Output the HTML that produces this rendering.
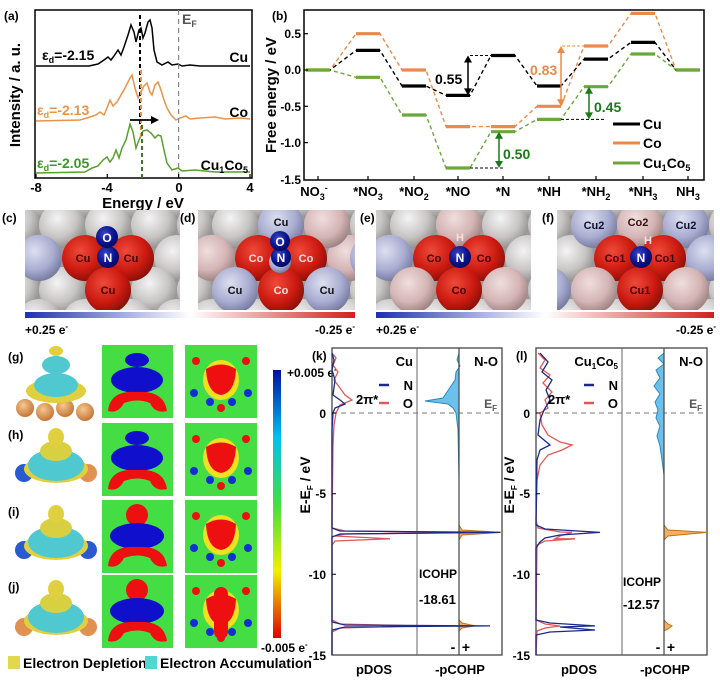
<!DOCTYPE html>
<html><head><meta charset="utf-8">
<style>
html,body{margin:0;padding:0;background:#fff;}
svg{display:block;font-family:"Liberation Sans",Arial,sans-serif;font-weight:bold;}
</style></head>
<body>
<svg width="720" height="682" viewBox="0 0 720 682" xmlns="http://www.w3.org/2000/svg">
<defs>
<radialGradient id="gGray" cx="0.4" cy="0.35" r="0.7"><stop offset="0" stop-color="#f4f4f4"/><stop offset="0.6" stop-color="#c8c4c4"/><stop offset="1" stop-color="#8a8888"/></radialGradient>
<radialGradient id="gPink" cx="0.4" cy="0.35" r="0.7"><stop offset="0" stop-color="#f0dede"/><stop offset="0.6" stop-color="#d4b4b4"/><stop offset="1" stop-color="#967c7c"/></radialGradient>
<radialGradient id="gLb" cx="0.4" cy="0.35" r="0.7"><stop offset="0" stop-color="#dde0f0"/><stop offset="0.6" stop-color="#a8acd0"/><stop offset="1" stop-color="#70749a"/></radialGradient>
<radialGradient id="gRed" cx="0.4" cy="0.35" r="0.7"><stop offset="0" stop-color="#ee4a3a"/><stop offset="0.6" stop-color="#cc1a10"/><stop offset="1" stop-color="#801008"/></radialGradient>
<radialGradient id="gBlue" cx="0.4" cy="0.35" r="0.7"><stop offset="0" stop-color="#3a46c0"/><stop offset="0.6" stop-color="#0a148e"/><stop offset="1" stop-color="#02085a"/></radialGradient>
<radialGradient id="gOr" cx="0.4" cy="0.35" r="0.7"><stop offset="0" stop-color="#f8c890"/><stop offset="1" stop-color="#c07030"/></radialGradient>
<linearGradient id="cb1" x1="0" x2="1"><stop offset="0" stop-color="#2030b0"/><stop offset="0.5" stop-color="#ffffff"/><stop offset="1" stop-color="#d02020"/></linearGradient>
<linearGradient id="cb2" x1="0" y1="0" x2="0" y2="1"><stop offset="0" stop-color="#0010a0"/><stop offset="0.25" stop-color="#00c0f0"/><stop offset="0.5" stop-color="#40e040"/><stop offset="0.75" stop-color="#f0f000"/><stop offset="1" stop-color="#e00000"/></linearGradient>
<clipPath id="cc"><rect x="25" y="210" width="155" height="100"/></clipPath>
<clipPath id="cd"><rect x="198" y="210" width="157" height="100"/></clipPath>
<clipPath id="ce"><rect x="376" y="210" width="155" height="100"/></clipPath>
<clipPath id="cf"><rect x="557" y="210" width="157" height="100"/></clipPath>
<g id="bg" fill="url(#gGray)">
<rect x="-40" y="190" width="260" height="140" fill="#9a9898"/>
<circle cx="-32" cy="195" r="23"/><circle cx="14" cy="195" r="23"/><circle cx="60" cy="195" r="23"/><circle cx="106" cy="195" r="23"/><circle cx="152" cy="195" r="23"/><circle cx="198" cy="195" r="23"/>
<circle cx="-9" cy="225" r="23"/><circle cx="37" cy="225" r="23"/><circle cx="83" cy="225" r="23"/><circle cx="129" cy="225" r="23"/><circle cx="175" cy="225" r="23"/>
<circle cx="-32" cy="258" r="23"/><circle cx="14" cy="258" r="23"/><circle cx="60" cy="258" r="23"/><circle cx="106" cy="258" r="23"/><circle cx="152" cy="258" r="23"/><circle cx="198" cy="258" r="23"/>
<circle cx="-9" cy="290" r="23"/><circle cx="37" cy="290" r="23"/><circle cx="83" cy="290" r="23"/><circle cx="129" cy="290" r="23"/><circle cx="175" cy="290" r="23"/>
<circle cx="-32" cy="322" r="23"/><circle cx="14" cy="322" r="23"/><circle cx="60" cy="322" r="23"/><circle cx="106" cy="322" r="23"/><circle cx="152" cy="322" r="23"/><circle cx="198" cy="322" r="23"/>
</g>
<g id="m1a">
<rect x="102" y="0" width="71" height="73" fill="#44dd44"/>
<ellipse cx="137" cy="15" rx="12" ry="7" fill="#1010cc"/>
<ellipse cx="137" cy="35" rx="26" ry="13" fill="#1010cc"/>
<path d="M108,66 Q110,45 137,47 Q164,45 167,66 Q155,69 150,58 Q137,53 124,58 Q118,69 108,66Z" fill="#ee1010"/>
</g>
<g id="m1b">
<rect x="102" y="0" width="71" height="73" fill="#44dd44"/>
<ellipse cx="137" cy="15" rx="11" ry="11" fill="#ee1010"/>
<ellipse cx="137" cy="36" rx="27" ry="13" fill="#1010cc"/>
<path d="M108,66 Q110,45 137,47 Q164,45 167,66 Q155,69 150,58 Q137,53 124,58 Q118,69 108,66Z" fill="#ee1010"/>
</g>
<g id="m2">
<rect x="185" y="0" width="72" height="73" fill="#44dd44"/>
<ellipse cx="221" cy="35" rx="18" ry="20" fill="#f0e020"/>
<path d="M206,24 Q221,15 236,24 Q235,48 221,50 Q207,48 206,24Z" fill="#ee1010"/>
<circle cx="196" cy="16" r="4" fill="#ee1010"/><circle cx="246" cy="16" r="4" fill="#ee1010"/><circle cx="221" cy="63" r="4" fill="#ee1010"/>
<circle cx="194" cy="48" r="4" fill="#1030d0"/><circle cx="248" cy="48" r="4" fill="#1030d0"/><circle cx="210" cy="57" r="4" fill="#1030d0"/><circle cx="232" cy="57" r="4" fill="#1030d0"/>
</g>
<g id="iso">
<ellipse cx="56" cy="46" rx="32" ry="14" fill="#e0d040"/>
<ellipse cx="56" cy="42" rx="28" ry="16" fill="#50c8d0"/>
<ellipse cx="56" cy="28" rx="16" ry="10" fill="#d8d040"/>
<ellipse cx="56" cy="14" rx="8" ry="9" fill="#e0d040"/>
</g>
</defs>

<!-- (a) -->
<text x="4" y="20" font-size="12">(a)</text>
<rect x="35" y="10" width="217" height="168" fill="none" stroke="#000" stroke-width="1.5"/>
<path d="M36,66 L89,66 L98,64 L104,60 L108,57 L111,60 L114,56 L118,50 L121,55 L124,47 L128,35 L131,25 L134,32 L136,42 L139,30 L141,28 L143,38 L145,33 L148,22 L150,20 L152,28 L154,50 L157,62 L162,65 L168,62 L172,65 L178,64 L182,66 L190,65 L200,66 L250,66" fill="none" stroke="#000" stroke-width="1.5"/>
<path d="M36,121 L80,120 L90,117 L96,115 L100,112 L104,115 L107,108 L110,100 L113,106 L117,102 L121,95 L125,88 L129,80 L132,75 L135,88 L138,98 L141,92 L144,86 L147,83 L150,92 L152,95 L155,85 L158,82 L161,90 L164,100 L167,108 L171,115 L176,120 L180,118 L186,116 L190,119 L200,118 L215,117 L225,119 L240,118 L250,119" fill="none" stroke="#e8944a" stroke-width="1.5"/>
<path d="M36,173 L85,172 L92,168 L98,166 L103,160 L107,157 L110,162 L113,158 L116,150 L119,158 L122,148 L126,140 L130,124 L133,132 L136,148 L139,140 L143,131 L147,130 L151,133 L155,138 L158,135 L161,136 L164,150 L167,163 L172,170 L178,168 L182,171 L195,170 L215,172 L250,172" fill="none" stroke="#5aa02c" stroke-width="1.5"/>
<line x1="178.6" y1="10" x2="178.6" y2="178" stroke="#888" stroke-width="1.2" stroke-dasharray="5,4"/>
<line x1="140" y1="15" x2="140" y2="125" stroke="#000" stroke-width="2" stroke-dasharray="4,3"/>
<line x1="141" y1="70" x2="141" y2="140" stroke="#e8944a" stroke-width="2" stroke-dasharray="4,3"/>
<line x1="142" y1="125" x2="142" y2="178" stroke="#3a7a20" stroke-width="2" stroke-dasharray="4,3"/>
<line x1="130" y1="120" x2="152" y2="120" stroke="#000" stroke-width="1.8"/>
<polygon points="159,120 151,116 151,124" fill="#000"/>
<text x="182" y="24" font-size="14" fill="#555">E<tspan font-size="9" dy="3">F</tspan></text>
<text x="42" y="60" font-size="14">ε<tspan font-size="9" dy="3">d</tspan><tspan dy="-3">=-2.15</tspan></text>
<text x="248" y="62" font-size="14" text-anchor="end">Cu</text>
<text x="37" y="115" font-size="14" fill="#e8944a">ε<tspan font-size="9" dy="3">d</tspan><tspan dy="-3">=-2.13</tspan></text>
<text x="248" y="117" font-size="14" text-anchor="end">Co</text>
<text x="37" y="168" font-size="14" fill="#3a9a20">ε<tspan font-size="9" dy="3">d</tspan><tspan dy="-3">=-2.05</tspan></text>
<text x="248" y="170" font-size="14" text-anchor="end">Cu<tspan font-size="9" dy="3">1</tspan><tspan dy="-3">Co</tspan><tspan font-size="9" dy="3">5</tspan></text>
<g stroke="#000" stroke-width="1.2"><line x1="36" y1="178" x2="36" y2="174"/><line x1="107.3" y1="178" x2="107.3" y2="174"/><line x1="178.6" y1="178" x2="178.6" y2="174"/><line x1="250" y1="178" x2="250" y2="174"/></g>
<g font-size="13" text-anchor="middle"><text x="36" y="192">-8</text><text x="107" y="192">-4</text><text x="179" y="192">0</text><text x="250" y="192">4</text></g>
<text x="143" y="208" font-size="15" text-anchor="middle">Energy / eV</text>
<text transform="translate(20,95) rotate(-90)" font-size="15" text-anchor="middle">Intensity / a. u.</text>

<!-- (b) -->
<text x="272" y="20" font-size="12">(b)</text>
<rect x="304" y="10" width="400" height="170" fill="none" stroke="#000" stroke-width="1.5"/>
<polyline points="306,70 330,70 356,33.7 380,33.7 402,70 426,70 446,126.6 470,126.6 491,126.6 515,126.6 537,106.3 561,106.3 584,46 608,46 631,13.4 655,13.4 676,70 700,70" fill="none" stroke="#ea8a4a" stroke-width="1.4" stroke-dasharray="4,3"/>
<polyline points="306,70 330,70 356,77.3 380,77.3 402,115 426,115 446,168 470,168 491,131.7 515,131.7 537,119.4 561,119.4 584,86.7 608,86.7 631,54 655,54 676,70 700,70" fill="none" stroke="#6aa83a" stroke-width="1.4" stroke-dasharray="4,3"/>
<polyline points="306,70 330,70 356,50.4 380,50.4 402,86 426,86 446,95.4 470,95.4 491,55.5 515,55.5 537,86 561,86 584,59.1 608,59.1 631,42.4 655,42.4 676,70 700,70" fill="none" stroke="#000" stroke-width="1.4" stroke-dasharray="4,3"/>
<path d="M306,70H330M356,33.7H380M402,70H426M446,126.6H470M491,126.6H515M537,106.3H561M584,46H608M631,13.4H655M676,70H700" stroke="#ea8a4a" stroke-width="3.2"/>
<path d="M306,70H330M356,77.3H380M402,115H426M446,168H470M491,131.7H515M537,119.4H561M584,86.7H608M631,54H655M676,70H700" stroke="#6aa83a" stroke-width="3.2"/>
<path d="M356,50.4H380M402,86H426M446,95.4H470M491,55.5H515M537,86H561M584,59.1H608M631,42.4H655" stroke="#000" stroke-width="3.2"/>
<g stroke="#000" stroke-width="1.2"><line x1="304" y1="33.7" x2="308" y2="33.7"/><line x1="304" y1="70" x2="308" y2="70"/><line x1="304" y1="106.3" x2="308" y2="106.3"/><line x1="304" y1="142.6" x2="308" y2="142.6"/>
<path d="M318,180v-4M368,180v-4M414,180v-4M458,180v-4M503,180v-4M549,180v-4M596,180v-4M643,180v-4M688,180v-4"/></g>
<g font-size="12" text-anchor="end"><text x="301" y="38">0.5</text><text x="301" y="74">0.0</text><text x="301" y="111">-0.5</text><text x="301" y="147">-1.0</text><text x="301" y="184">-1.5</text></g>
<g font-size="13" text-anchor="middle">
<text x="314" y="196">NO<tspan font-size="9" dy="4">3</tspan><tspan font-size="9" dy="-9">-</tspan></text>
<text x="368" y="196">*NO<tspan font-size="9" dy="4">3</tspan></text>
<text x="414" y="196">*NO<tspan font-size="9" dy="4">2</tspan></text>
<text x="458" y="196">*NO</text><text x="503" y="196">*N</text><text x="549" y="196">*NH</text>
<text x="596" y="196">*NH<tspan font-size="9" dy="4">2</tspan></text>
<text x="643" y="196">*NH<tspan font-size="9" dy="4">3</tspan></text>
<text x="688" y="196">NH<tspan font-size="9" dy="4">3</tspan></text></g>
<text transform="translate(276,95) rotate(-90)" font-size="15" text-anchor="middle">Free energy / eV</text>
<line x1="470" y1="55.5" x2="492" y2="55.5" stroke="#000" stroke-dasharray="3,2"/>
<line x1="468" y1="61" x2="468" y2="90" stroke="#000" stroke-width="1.5"/>
<polygon points="468,55.5 464,62.5 472,62.5" fill="#000"/><polygon points="468,95.4 464,88.4 472,88.4" fill="#000"/>
<text x="435" y="84" font-size="14">0.55</text>
<line x1="562" y1="46" x2="584" y2="46" stroke="#ea8a4a" stroke-dasharray="3,2"/>
<line x1="561" y1="51" x2="561" y2="101" stroke="#ea8a4a" stroke-width="1.5"/>
<polygon points="561,46 557,53 565,53" fill="#ea8a4a"/><polygon points="561,106.3 557,99.3 565,99.3" fill="#ea8a4a"/>
<text x="530" y="75" font-size="14" fill="#ea8a4a">0.83</text>
<line x1="561" y1="119.4" x2="605" y2="119.4" stroke="#000" stroke-dasharray="3,2"/>
<line x1="589" y1="92" x2="589" y2="114" stroke="#1a7a1a" stroke-width="1.5"/>
<polygon points="589,86.7 585,93.7 593,93.7" fill="#1a7a1a"/><polygon points="589,119.4 585,112.4 593,112.4" fill="#1a7a1a"/>
<text x="594" y="112" font-size="14" fill="#1a7a1a">0.45</text>
<line x1="470" y1="168" x2="505" y2="168" stroke="#000" stroke-dasharray="3,2"/>
<line x1="499" y1="137" x2="499" y2="163" stroke="#1a7a1a" stroke-width="1.5"/>
<polygon points="499,131.7 495,138.7 503,138.7" fill="#1a7a1a"/><polygon points="499,168 495,161 503,161" fill="#1a7a1a"/>
<text x="503" y="159" font-size="14" fill="#1a7a1a">0.50</text>
<line x1="613" y1="124" x2="640" y2="124" stroke="#000" stroke-width="3"/><text x="643" y="129" font-size="14">Cu</text>
<line x1="613" y1="143" x2="640" y2="143" stroke="#ea8a4a" stroke-width="3"/><text x="643" y="148" font-size="14">Co</text>
<line x1="613" y1="163" x2="640" y2="163" stroke="#6aa83a" stroke-width="3"/><text x="643" y="168" font-size="14">Cu<tspan font-size="9" dy="3">1</tspan><tspan dy="-3">Co</tspan><tspan font-size="9" dy="3">5</tspan></text>

<!-- (c) -->
<g clip-path="url(#cc)">
<use href="#bg" x="25"/>
<circle cx="39" cy="258" r="23" fill="url(#gLb)"/>
<circle cx="85" cy="258" r="23" fill="url(#gRed)"/><circle cx="131" cy="258" r="23" fill="url(#gRed)"/><circle cx="108" cy="290" r="23" fill="url(#gRed)"/>
<g font-size="11" fill="#400" text-anchor="middle"><text x="83" y="262">Cu</text><text x="131" y="262">Cu</text><text x="108" y="294">Cu</text></g>
<circle cx="108" cy="257" r="11" fill="url(#gBlue)"/><circle cx="107" cy="237" r="11" fill="url(#gBlue)"/>
<text x="108" y="262" font-size="12" fill="#fff" text-anchor="middle">N</text><text x="107" y="242" font-size="12" fill="#fff" text-anchor="middle">O</text>
</g>
<!-- (d) -->
<g clip-path="url(#cd)">
<use href="#bg" x="198"/>
<circle cx="212" cy="258" r="23" fill="url(#gPink)"/><circle cx="350" cy="258" r="23" fill="url(#gPink)"/><circle cx="327" cy="225" r="23" fill="url(#gPink)"/>
<circle cx="281" cy="225" r="23" fill="url(#gLb)"/><circle cx="373" cy="258" r="23" fill="url(#gLb)"/>
<circle cx="258" cy="258" r="23" fill="url(#gRed)"/><circle cx="304" cy="258" r="23" fill="url(#gRed)"/>
<circle cx="235" cy="290" r="23" fill="url(#gLb)"/><circle cx="327" cy="290" r="23" fill="url(#gLb)"/>
<circle cx="281" cy="290" r="23" fill="url(#gRed)"/>
<g font-size="11" text-anchor="middle"><text x="256" y="262" fill="#fdd">Co</text><text x="306" y="262" fill="#fdd">Co</text><text x="281" y="294" fill="#fdd">Co</text><text x="235" y="294" fill="#111">Cu</text><text x="327" y="294" fill="#111">Cu</text><text x="281" y="226" fill="#111">Cu</text></g>
<circle cx="280" cy="262" r="11" fill="url(#gLb)"/><circle cx="281" cy="257" r="10" fill="url(#gBlue)"/><circle cx="280" cy="241" r="10" fill="url(#gBlue)"/>
<text x="281" y="262" font-size="12" fill="#fff" text-anchor="middle">N</text><text x="280" y="246" font-size="12" fill="#fff" text-anchor="middle">O</text>
</g>
<!-- (e) -->
<g clip-path="url(#ce)">
<use href="#bg" x="376"/>
<circle cx="390" cy="258" r="23" fill="url(#gLb)"/><circle cx="459" cy="225" r="23" fill="url(#gPink)"/>
<circle cx="436" cy="258" r="23" fill="url(#gRed)"/><circle cx="482" cy="258" r="23" fill="url(#gRed)"/>
<circle cx="413" cy="290" r="23" fill="url(#gPink)"/><circle cx="505" cy="290" r="23" fill="url(#gPink)"/>
<circle cx="459" cy="290" r="23" fill="url(#gRed)"/>
<g font-size="11" fill="#400" text-anchor="middle"><text x="434" y="262">Co</text><text x="484" y="262">Co</text><text x="459" y="294">Co</text></g>
<circle cx="460" cy="257" r="11" fill="url(#gBlue)"/>
<text x="460" y="262" font-size="12" fill="#fff" text-anchor="middle">N</text><text x="460" y="241" font-size="11" fill="#fdd" text-anchor="middle">H</text>
</g>
<!-- (f) -->
<g clip-path="url(#cf)">
<use href="#bg" x="557"/>
<circle cx="594" cy="225" r="23" fill="url(#gLb)"/><circle cx="686" cy="225" r="23" fill="url(#gLb)"/><circle cx="640" cy="225" r="23" fill="url(#gPink)"/>
<circle cx="709" cy="258" r="23" fill="url(#gLb)"/>
<circle cx="617" cy="258" r="23" fill="url(#gRed)"/><circle cx="663" cy="258" r="23" fill="url(#gRed)"/>
<circle cx="548" cy="290" r="23" fill="url(#gLb)"/><circle cx="594" cy="290" r="23" fill="url(#gPink)"/><circle cx="686" cy="290" r="23" fill="url(#gPink)"/>
<circle cx="640" cy="290" r="23" fill="url(#gRed)"/>
<g font-size="11" fill="#400" text-anchor="middle"><text x="615" y="262">Co1</text><text x="665" y="262">Co1</text><text x="640" y="294">Cu1</text><text x="594" y="229" fill="#113">Cu2</text><text x="686" y="229" fill="#113">Cu2</text><text x="638" y="226" fill="#311">Co2</text></g>
<circle cx="641" cy="257" r="11" fill="url(#gBlue)"/>
<text x="641" y="262" font-size="12" fill="#fff" text-anchor="middle">N</text><text x="648" y="244" font-size="11" fill="#fdd" text-anchor="middle">H</text>
</g>
<text x="2" y="222" font-size="12">(c)</text><text x="180" y="222" font-size="12">(d)</text><text x="360" y="222" font-size="12">(e)</text><text x="542" y="222" font-size="12">(f)</text>
<rect x="25" y="312" width="330" height="6" fill="url(#cb1)"/>
<rect x="376" y="312" width="338" height="6" fill="url(#cb1)"/>
<text x="25" y="334" font-size="12">+0.25 e<tspan font-size="8" dy="-5">-</tspan></text>
<text x="355" y="334" font-size="12" text-anchor="end">-0.25 e<tspan font-size="8" dy="-5">-</tspan></text>
<text x="376" y="334" font-size="12">+0.25 e<tspan font-size="8" dy="-5">-</tspan></text>
<text x="716" y="334" font-size="12" text-anchor="end">-0.25 e<tspan font-size="8" dy="-5">-</tspan></text>

<!-- (g)-(j) -->
<text x="8" y="361" font-size="12">(g)</text><text x="8" y="439" font-size="12">(h)</text><text x="8" y="516" font-size="12">(i)</text><text x="8" y="591" font-size="12">(j)</text>
<g transform="translate(0,345)">
<circle cx="25" cy="63" r="9" fill="url(#gOr)"/><circle cx="45" cy="67" r="9" fill="url(#gOr)"/><circle cx="65" cy="63" r="9" fill="url(#gOr)"/><circle cx="85" cy="67" r="9" fill="url(#gOr)"/>
<ellipse cx="56" cy="46" rx="30" ry="12" fill="#e0d040"/><ellipse cx="56" cy="40" rx="22" ry="12" fill="#50c8d0"/><ellipse cx="56" cy="20" rx="14" ry="9" fill="#50c8d0"/><ellipse cx="56" cy="6" rx="7" ry="5" fill="#e0d040"/>
<use href="#m1a"/><use href="#m2"/></g>
<g transform="translate(0,423)"><circle cx="24" cy="50" r="9" fill="#2a5ad0"/><circle cx="88" cy="50" r="9" fill="#e09050"/><use href="#iso"/><use href="#m1a"/><use href="#m2"/></g>
<g transform="translate(0,500)"><circle cx="24" cy="50" r="9" fill="#2a5ad0"/><circle cx="88" cy="50" r="9" fill="#2a5ad0"/><use href="#iso"/><use href="#m1b"/><use href="#m2"/></g>
<g transform="translate(0,575)"><circle cx="24" cy="52" r="9" fill="#e09050"/><circle cx="88" cy="52" r="9" fill="#e09050"/><use href="#iso"/><use href="#m1b"/><use href="#m2"/><rect x="214" y="12" width="14" height="52" rx="7" fill="#ee1010"/></g>
<rect x="273" y="370" width="8" height="268" fill="url(#cb2)"/>
<text x="287" y="377" font-size="12">+0.005 e<tspan font-size="8" dy="-5">-</tspan></text>
<text x="261" y="652" font-size="12">-0.005 e<tspan font-size="8" dy="-5">-</tspan></text>
<rect x="8" y="656" width="12" height="13" fill="#e0d850"/><text x="23" y="668" font-size="14">Electron Depletion</text>
<rect x="145" y="656" width="12" height="13" fill="#50d8d0"/><text x="160" y="668" font-size="14">Electron Accumulation</text>

<!-- (k) -->
<text x="312" y="360" font-size="12">(k)</text>
<rect x="332" y="348" width="170" height="307" fill="none" stroke="#444" stroke-width="1.3"/>
<line x1="417" y1="348" x2="417" y2="655" stroke="#666"/>
<line x1="332" y1="413" x2="502" y2="413" stroke="#777" stroke-dasharray="5,4"/>
<path d="M459,353 L457,360 L460,366 L456,372 L455,380 L451,386 L447,392 L443,398 L425,401 L448,404 L453,408 L456,413 L458,430 L459,480Z" fill="#6cc0ec" stroke="#2a8ac0"/>
<path d="M459,525 L462,530 L502,532.4 L462,535 L459,540Z M459,620 L462,623 L475,625.9 L462,628 L459,631Z" fill="#f4b060" stroke="#c07020"/>
<line x1="459" y1="348" x2="459" y2="655" stroke="#444" stroke-width="1.2"/>
<path d="M332,353 L336,358 L333,365 L338,372 L334,380 L340,388 L345,395 L352,400 L340,405 L336,413 L334,425 L333,445 L332,520 L332,528 L345,531 L470,532.4 L345,534 L335,536 L390,538.8 L335,541 L332,545 L332,620 L340,624 L420,625.9 L340,628 L332,632 L332,655" fill="none" stroke="#e05858" stroke-width="1.3"/>
<path d="M332,353 L334,360 L332,370 L335,380 L333,395 L340,400 L345,404 L335,408 L333,413 L332,430 L332,528 L340,531 L500,532.4 L340,534 L332,537 L332,622 L345,625 L490,625.9 L345,627 L332,630 L332,655" fill="none" stroke="#1a2a8a" stroke-width="1.3"/>
<g stroke="#000"><path d="M332,413h4M332,493.7h4M332,574.3h4"/></g>
<g font-size="12" text-anchor="end"><text x="326" y="418">0</text><text x="326" y="498">-5</text><text x="326" y="579">-10</text><text x="326" y="660">-15</text></g>
<text x="498" y="366" font-size="13" text-anchor="end">N-O</text>
<text x="497" y="408" font-size="12" fill="#555" text-anchor="end">E<tspan font-size="8" dy="3">F</tspan></text>
<text x="413" y="366" font-size="13" text-anchor="end">Cu</text>
<line x1="379" y1="385" x2="389" y2="385" stroke="#1a2a8a" stroke-width="2.5"/><text x="413" y="390" font-size="13" text-anchor="end">N</text>
<line x1="379" y1="403" x2="389" y2="403" stroke="#e05858" stroke-width="2.5"/><text x="413" y="408" font-size="13" text-anchor="end">O</text>
<text x="356" y="404" font-size="13">2π*</text>
<text x="419" y="578" font-size="12">ICOHP</text><text x="419" y="604" font-size="13">-18.61</text>
<text x="453" y="652" font-size="14" text-anchor="middle">-</text><text x="466" y="652" font-size="14" text-anchor="middle">+</text>
<text x="374" y="674" font-size="13" text-anchor="middle">pDOS</text><text x="460" y="674" font-size="13" text-anchor="middle">-pCOHP</text>
<text transform="translate(310,485) rotate(-90)" font-size="14" text-anchor="middle">E-E<tspan font-size="8" dy="3">F</tspan><tspan dy="-3"> / eV</tspan></text>

<!-- (l) -->
<text x="516" y="360" font-size="12">(l)</text>
<rect x="536" y="348" width="171" height="307" fill="none" stroke="#444" stroke-width="1.3"/>
<line x1="622" y1="348" x2="622" y2="655" stroke="#666"/>
<line x1="536" y1="413" x2="707" y2="413" stroke="#777" stroke-dasharray="5,4"/>
<path d="M664,353 L658,358 L664,364 L656,370 L660,378 L654,386 L660,394 L655,402 L658,410 L656,418 L660,426 L657,436 L660,446 L662,460 L664,475Z" fill="#6cc0ec" stroke="#2a8ac0"/>
<path d="M664,525 L668,530 L707,532.4 L668,536 L664,540Z M664,620 L668,624 L672,625.9 L668,629 L664,631Z" fill="#f4b060" stroke="#c07020"/>
<line x1="664" y1="348" x2="664" y2="655" stroke="#444" stroke-width="1.2"/>
<path d="M538,353 L545,360 L540,368 L550,375 L543,383 L552,392 L545,400 L548,408 L540,413 L542,425 L548,435 L560,442 L572,445 L562,450 L548,455 L540,465 L537,480 L536,520 L538,528 L560,532 L572,532.4 L560,536 L555,538.8 L575,538.8 L545,541 L537,545 L536,620 L545,624 L560,626 L545,628 L537,631 L536,655" fill="none" stroke="#e05858" stroke-width="1.3"/>
<path d="M540,353 L548,362 L542,372 L552,380 L546,390 L550,400 L544,410 L540,420 L538,435 L550,445 L540,450 L537,460 L536,525 L545,529 L600,532.4 L560,535 L545,538 L540,542 L536,548 L536,620 L550,623 L595,625.9 L560,627 L595,630 L550,632 L536,635 L536,655" fill="none" stroke="#1a2a8a" stroke-width="1.3"/>
<g stroke="#000"><path d="M536,413h4M536,493.7h4M536,574.3h4"/></g>
<g font-size="12" text-anchor="end"><text x="530" y="418">0</text><text x="530" y="498">-5</text><text x="530" y="579">-10</text><text x="530" y="660">-15</text></g>
<text x="703" y="366" font-size="13" text-anchor="end">N-O</text>
<text x="702" y="408" font-size="12" fill="#555" text-anchor="end">E<tspan font-size="8" dy="3">F</tspan></text>
<text x="618" y="366" font-size="13" text-anchor="end">Cu<tspan font-size="8" dy="3">1</tspan><tspan dy="-3">Co</tspan><tspan font-size="8" dy="3">5</tspan></text>
<line x1="584" y1="385" x2="594" y2="385" stroke="#1a2a8a" stroke-width="2.5"/><text x="618" y="390" font-size="13" text-anchor="end">N</text>
<line x1="584" y1="403" x2="594" y2="403" stroke="#e05858" stroke-width="2.5"/><text x="618" y="408" font-size="13" text-anchor="end">O</text>
<text x="548" y="404" font-size="13">2π*</text>
<text x="623" y="586" font-size="12">ICOHP</text><text x="623" y="609" font-size="13">-12.57</text>
<text x="658" y="652" font-size="14" text-anchor="middle">-</text><text x="671" y="652" font-size="14" text-anchor="middle">+</text>
<text x="579" y="674" font-size="13" text-anchor="middle">pDOS</text><text x="665" y="674" font-size="13" text-anchor="middle">-pCOHP</text>
<text transform="translate(514,485) rotate(-90)" font-size="14" text-anchor="middle">E-E<tspan font-size="8" dy="3">F</tspan><tspan dy="-3"> / eV</tspan></text>
</svg>
</body></html>
